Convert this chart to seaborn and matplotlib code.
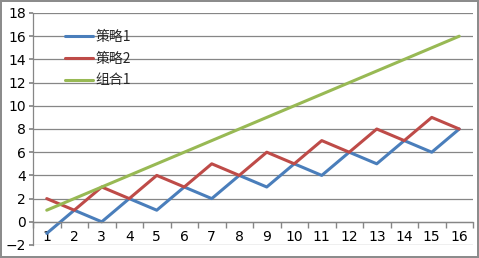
import matplotlib
matplotlib.use("Agg")
import matplotlib.pyplot as plt
import seaborn as sns
import pandas as pd
import numpy as np
from matplotlib.ticker import FixedLocator

categories = list(range(1, 17))
strategy1 = [-1, 1, 0, 2, 1, 3, 2, 4, 3, 5, 4, 6, 5, 7, 6, 8]
strategy2 = [2, 1, 3, 2, 4, 3, 5, 4, 6, 5, 7, 6, 8, 7, 9, 8]
combo1 = [1, 2, 3, 4, 5, 6, 7, 8, 9, 10, 11, 12, 13, 14, 15, 16]
series_names = ["策略1", "策略2", "组合1"]
colors = ["#4A7EBB", "#BE4B48", "#98B954"]
y_ticks = list(range(-2, 19, 2))

df = pd.DataFrame({
    "x": categories * 3,
    "y": strategy1 + strategy2 + combo1,
    "series": sum([[n] * len(categories) for n in series_names], []),
})

sns.set_theme(style="white")
plt.rcParams["font.family"] = ["Noto Sans CJK SC", "DejaVu Sans"]

fig = plt.figure(figsize=(4.79, 2.58), dpi=100)
fig.patch.set_facecolor("white")
fig.patch.set_edgecolor("#8c8c8c")
fig.patch.set_linewidth(1.5)
ax = fig.add_axes([33 / 479, (258 - 245) / 258, 440 / 479, (245 - 13) / 258])

sns.lineplot(data=df, x="x", y="y", hue="series", hue_order=series_names,
             palette=colors, linewidth=2.2, ax=ax, sort=False, legend=True)

ax.set_xlim(0.5, 16.5)
ax.set_ylim(-2, 18)
ax.set_yticks(y_ticks)
ax.set_xticks(categories)
ax.set_xticklabels([str(c) for c in categories])
ax.xaxis.set_minor_locator(FixedLocator(np.arange(0.5, 17, 1)))
ax.set_xlabel("")
ax.set_ylabel("")

ax.grid(axis="y", color="#868686", linewidth=0.9)
ax.set_axisbelow(True)
for s in ["top", "right"]:
    ax.spines[s].set_visible(False)
ax.spines["left"].set_color("#868686")
ax.spines["left"].set_linewidth(0.9)
ax.spines["bottom"].set_position(("data", 0))
ax.spines["bottom"].set_color("#868686")
ax.spines["bottom"].set_linewidth(0.9)

ax.tick_params(axis="y", which="major", left=True, length=3, color="#868686",
               labelsize=10, pad=2, labelcolor="#000000")
ax.tick_params(axis="x", which="major", bottom=False, length=0, labelsize=10,
               pad=6, labelcolor="#000000")
ax.tick_params(axis="x", which="minor", bottom=True, length=4, color="#868686")
for lbl in ax.get_xticklabels() + ax.get_yticklabels():
    lbl.set_fontfamily(["DejaVu Sans"])

leg = ax.legend(loc="upper left", bbox_to_anchor=(0.06, 0.95), frameon=False,
                handlelength=2.0, handletextpad=0.2, labelspacing=0.55,
                fontsize=10, borderaxespad=0)
for line in leg.get_lines():
    line.set_linewidth(2.2)

fig.savefig("out.png", dpi=100, facecolor=fig.get_facecolor(),
            edgecolor=fig.get_edgecolor())
